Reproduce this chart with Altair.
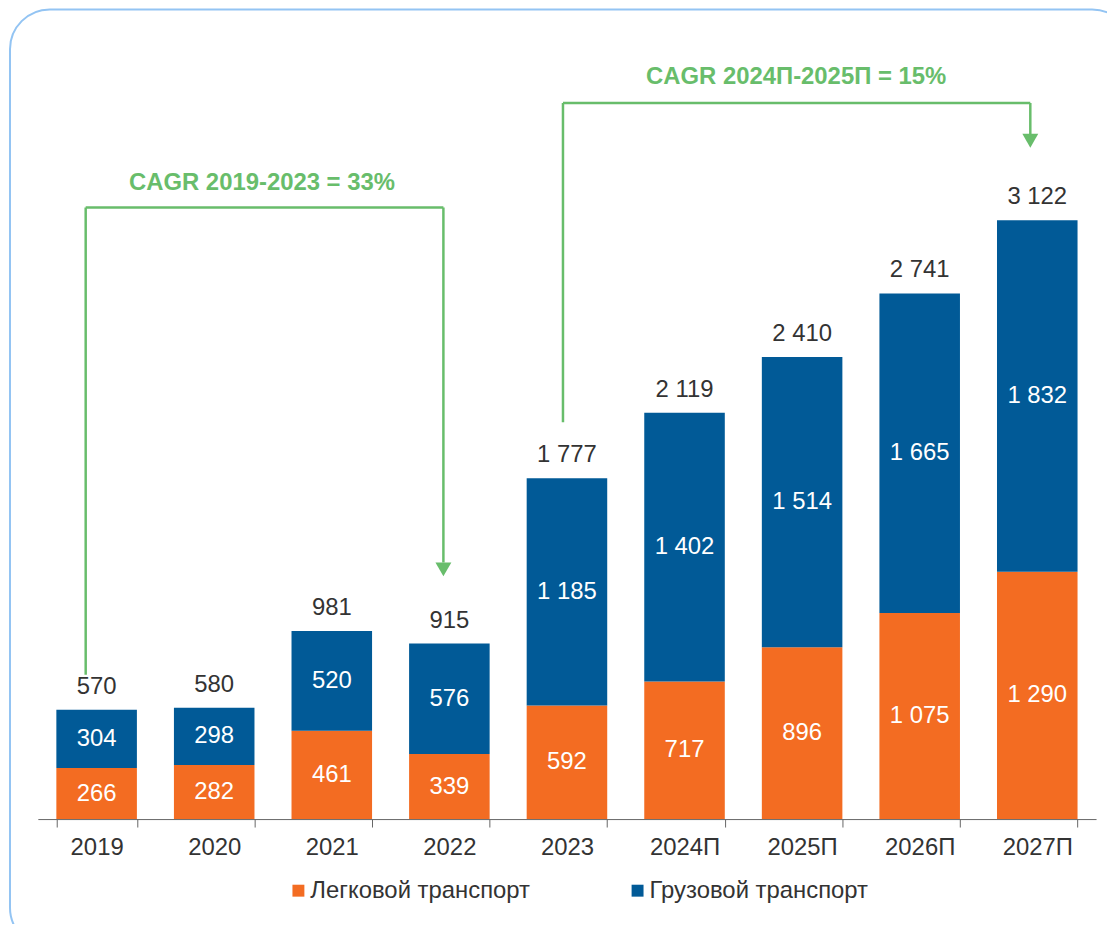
import altair as alt
import pandas as pd

# ---------------- data ----------------
years = ["2019", "2020", "2021", "2022", "2023", "2024П", "2025П", "2026П", "2027П"]
passenger = [266, 282, 461, 339, 592, 717, 896, 1075, 1290]
freight = [304, 298, 520, 576, 1185, 1402, 1514, 1665, 1832]
totals = [570, 580, 981, 915, 1777, 2119, 2410, 2741, 3122]
series = ["Легковой транспорт", "Грузовой транспорт"]
colors = ["#F36C22", "#015A97"]

cagr_texts = ["CAGR 2019-2023 = 33%", "CAGR 2024П-2025П = 15%"]

GREEN = "#68BD6B"
TEXT = "#333333"
FONT = "Liberation Sans"
FS = 24
YMAX = 4154


def fmt(v):
    return f"{v:,}".replace(",", " ")


rows = []
for yr, p, f in zip(years, passenger, freight):
    rows.append(dict(year=yr, series=series[0], start=0, end=p, mid=p / 2, label=fmt(p)))
    rows.append(dict(year=yr, series=series[1], start=p, end=p + f, mid=p + f / 2, label=fmt(f)))
df = pd.DataFrame(rows)
tot = pd.DataFrame(dict(year=years, total=totals, label=[fmt(t) for t in totals]))

xscale = alt.Scale(domain=years, paddingInner=0.315, paddingOuter=0.1575)
yscale = alt.Scale(domain=[0, YMAX], nice=False, zero=True)

xenc = alt.X(
    "year:N",
    sort=None,
    title=None,
    scale=xscale,
    axis=alt.Axis(
        labelAngle=0,
        tickBand="extent",
        labelFontSize=FS,
        labelColor=TEXT,
        labelFont=FONT,
        domainColor="#666666",
        tickColor="#666666",
        tickSize=8,
        labelPadding=9,
        grid=False,
    ),
)


def X():
    return alt.X("year:N", sort=None, scale=xscale)


bars = alt.Chart(df).mark_bar().encode(
    x=xenc,
    y=alt.Y("start:Q", scale=yscale, axis=None, title=None),
    y2="end:Q",
    color=alt.Color(
        "series:N",
        scale=alt.Scale(domain=series, range=colors),
        legend=alt.Legend(
            title=None,
            orient="none",
            legendX=250,
            legendY=861,
            direction="horizontal",
            symbolType="square",
            symbolSize=144,
            symbolStrokeWidth=0,
            symbolOpacity=1,
            labelFontSize=FS,
            labelColor=TEXT,
            labelFont=FONT,
            labelOffset=0,
            columnPadding=96,
            padding=0,
            labelLimit=400,
        ),
    ),
)

seg_labels = alt.Chart(df).mark_text(color="white", fontSize=FS, baseline="middle", font=FONT).encode(
    x=X(),
    y=alt.Y("mid:Q", scale=yscale),
    text="label:N",
)

tot_labels = alt.Chart(tot).mark_text(color=TEXT, fontSize=FS, baseline="alphabetic", dy=-16, font=FONT).encode(
    x=X(),
    y=alt.Y("total:Q", scale=yscale),
    text="label:N",
)


def vrule(year, y1, y2, off):
    d = pd.DataFrame({"year": [year], "y": [y1], "y2": [y2]})
    return alt.Chart(d).mark_rule(color=GREEN, strokeWidth=2.5, xOffset=off).encode(
        x=X(), y=alt.Y("y:Q", scale=yscale), y2="y2:Q"
    )


def hrule(year, year2, yv, off, off2):
    d = pd.DataFrame({"year": [year], "year2": [year2], "y": [yv]})
    return alt.Chart(d).mark_rule(color=GREEN, strokeWidth=2.5, xOffset=off, x2Offset=off2).encode(
        x=X(), x2="year2:N", y=alt.Y("y:Q", scale=yscale)
    )


def arrow(year, yv, off):
    d = pd.DataFrame({"year": [year], "y": [yv]})
    return alt.Chart(d).mark_point(
        shape="triangle-down", filled=True, size=256, color=GREEN, opacity=1, xOffset=off
    ).encode(x=X(), y=alt.Y("y:Q", scale=yscale))


def label(year, yv, dx, txt):
    d = pd.DataFrame({"year": [year], "y": [yv], "t": [txt]})
    return alt.Chart(d).mark_text(
        color=GREEN, fontSize=FS, fontWeight="bold", baseline="middle", dx=dx, font=FONT
    ).encode(x=X(), y=alt.Y("y:Q", scale=yscale), text="t:N")


ann = [
    vrule("2019", 752, 3189, -11),
    hrule("2019", "2022", 3189, -11, -6),
    vrule("2022", 1338, 3189, -6),
    arrow("2022", 1302, -6),
    label("2020", 3314, 48, cagr_texts[0]),
    vrule("2023", 2069, 3734, -4),
    hrule("2023", "2027П", 3734, -4, -7),
    vrule("2027П", 3563, 3734, -7),
    arrow("2027П", 3537, -7),
    label("2025П", 3869, -6, cagr_texts[1]),
]

frame = alt.Chart(pd.DataFrame({"a": [1]})).mark_rect(
    fill=None, stroke="#93C4F3", strokeWidth=2, cornerRadius=40
).encode(
    x=alt.value(-28), x2=alt.value(1100), y=alt.value(-13), y2=alt.value(930)
)

chart = alt.layer(frame, bars, seg_labels, tot_labels, *ann).properties(
    width=1064,
    height=801,
    padding={"left": 30, "right": 11, "top": 12, "bottom": 103},
    autosize=alt.AutoSizeParams(type="none"),
).configure(font=FONT).configure_view(stroke=None)

chart.save("out.html", embed_options={"renderer": "svg", "actions": False})
